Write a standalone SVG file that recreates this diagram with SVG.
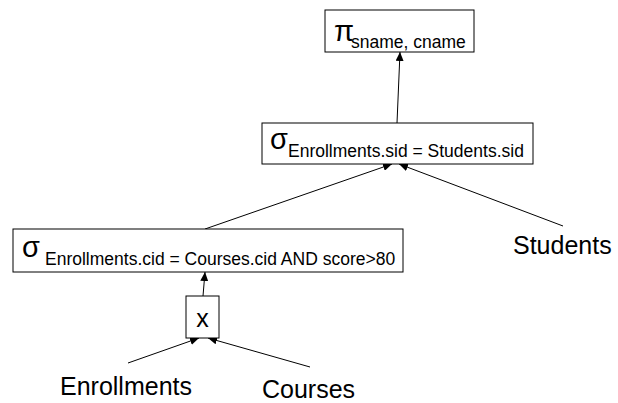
<svg xmlns="http://www.w3.org/2000/svg" width="618" height="403" viewBox="0 0 618 403">
<defs>
<style>
.box{fill:#fff;stroke:#000;stroke-width:1}
.t{font-family:"Liberation Sans",Arial,sans-serif;fill:#000}
.g{font-size:29px}
.s{font-size:17.5px}
.lbl{font-size:25px}
.c{stroke:#000;stroke-width:1;fill:none;marker-end:url(#ah)}
</style>
<marker id="ah" markerUnits="userSpaceOnUse" markerWidth="9" markerHeight="8" refX="9" refY="4" orient="auto">
<path d="M0,0 L9,4 L0,8 z" fill="#000"/>
</marker>
</defs>
<g id="connectors">
<line class="c" x1="397" y1="123" x2="400" y2="52"/>
<line class="c" x1="205" y1="229" x2="392" y2="164"/>
<line class="c" x1="563" y1="226" x2="399" y2="164"/>
<line class="c" x1="203" y1="296" x2="205" y2="272"/>
<line class="c" x1="128" y1="363" x2="199" y2="338"/>
<line class="c" x1="310" y1="367" x2="208" y2="338"/>
</g>
<g id="proj">
<rect class="box" x="325" y="10" width="149" height="42"/>
<text class="t"><tspan class="g" x="334" y="41">π</tspan><tspan class="s" x="351" y="48">sname, cname</tspan></text>
</g>
<g id="join-select">
<rect class="box" x="262" y="123" width="271" height="41"/>
<text class="t"><tspan class="g" x="270" y="149">σ</tspan><tspan class="s" x="288" y="157">Enrollments.sid = Students.sid</tspan></text>
</g>
<g id="filter-select">
<rect class="box" x="13" y="229" width="390" height="43"/>
<text class="t"><tspan class="g" x="22" y="257">σ</tspan><tspan class="s" x="45" y="265">Enrollments.cid = Courses.cid AND score&gt;80</tspan></text>
</g>
<g id="cross">
<rect class="box" x="186" y="296" width="33" height="42"/>
<text class="t lbl" x="202.5" y="327" text-anchor="middle">x</text>
</g>
<g id="students">
<text class="t lbl" x="513" y="254">Students</text>
</g>
<g id="enrollments">
<text class="t lbl" x="60" y="395">Enrollments</text>
</g>
<g id="courses">
<text class="t lbl" x="262" y="398">Courses</text>
</g>
</svg>
